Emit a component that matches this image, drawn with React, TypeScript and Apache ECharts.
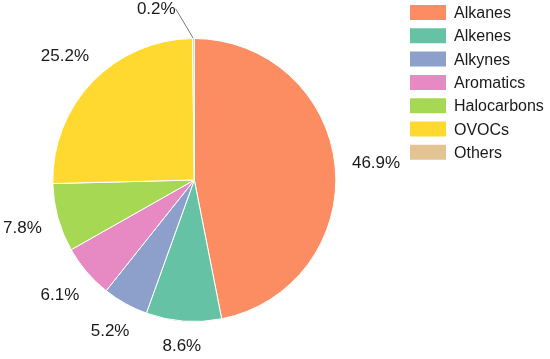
import React, { useEffect, useRef } from "react";
import * as echarts from "echarts";

const categories = ["Alkanes", "Alkenes", "Alkynes", "Aromatics", "Halocarbons", "OVOCs", "Others"];
const shares = [46.9, 8.6, 5.2, 6.1, 7.8, 25.2, 0.2];
const colors = ["#fc8d62", "#66c2a5", "#8da0cb", "#e78ac3", "#a6d854", "#ffd92f", "#e5c494"];

const FONT = "'Liberation Sans', Arial, sans-serif";
const LABEL_FS = 17;

export default function App() {
  const ref = useRef<HTMLDivElement>(null);
  useEffect(() => {
    if (!ref.current) return;
    const chart = echarts.init(ref.current, null, { renderer: "svg" });
    const cx = 194.3;
    const cy = 180;
    const r = 141.5;
    const gap = 158; // distance from centre to the nearest edge of each label
    const total = shares.reduce((a, b) => a + b, 0);
    const mids: number[] = [];
    let acc = 0;
    shares.forEach((v) => {
      mids.push(((acc + v / 2) / total) * Math.PI * 2);
      acc += v;
    });
    const data = categories.map((name, i) => ({
      name,
      value: shares[i],
      itemStyle: { color: colors[i] },
      labelLine: name === "Others" ? { show: true } : { show: false },
    }));
    chart.setOption({
      animation: false,
      textStyle: { fontFamily: FONT },
      legend: {
        orient: "vertical",
        left: 408,
        top: 3,
        padding: 0,
        itemWidth: 38,
        itemHeight: 17,
        itemGap: 4.3,
        icon: "rect",
        data: categories,
        selectedMode: false,
        textStyle: { fontSize: 16, color: "#1a1a1a", fontFamily: FONT, padding: [0, 0, 0, 2] },
      },
      series: [
        {
          type: "pie",
          center: [cx, cy],
          radius: r,
          startAngle: 90,
          clockwise: true,
          silent: true,
          avoidLabelOverlap: false,
          itemStyle: { borderColor: "#ffffff", borderWidth: 1 },
          label: {
            show: true,
            position: "outside",
            formatter: (p: any) => p.value.toFixed(1) + "%",
            fontSize: LABEL_FS,
            color: "#1a1a1a",
            fontFamily: FONT,
          },
          labelLine: { length: 15, length2: 0, lineStyle: { color: "#777777", width: 1 } },
          labelLayout: (p: any) => {
            const i = p.dataIndex;
            const th = mids[i];
            const ux = Math.sin(th);
            const uy = -Math.cos(th);
            const hw = p.labelRect.width / 2;
            const hh = LABEL_FS * 0.36;
            const d = gap + Math.abs(ux) * hw + Math.abs(uy) * hh;
            let x = cx + ux * d;
            let y = cy + uy * d;
            if (categories[i] === "Others") {
              x -= 37;
              y -= 7;
            }
            return { x, y, align: "center", verticalAlign: "middle" };
          },
          data,
        },
      ],
    });
    return () => chart.dispose();
  }, []);
  return <div ref={ref} style={{ position: "fixed", left: 0, top: 0, width: 550, height: 359 }} />;
}
